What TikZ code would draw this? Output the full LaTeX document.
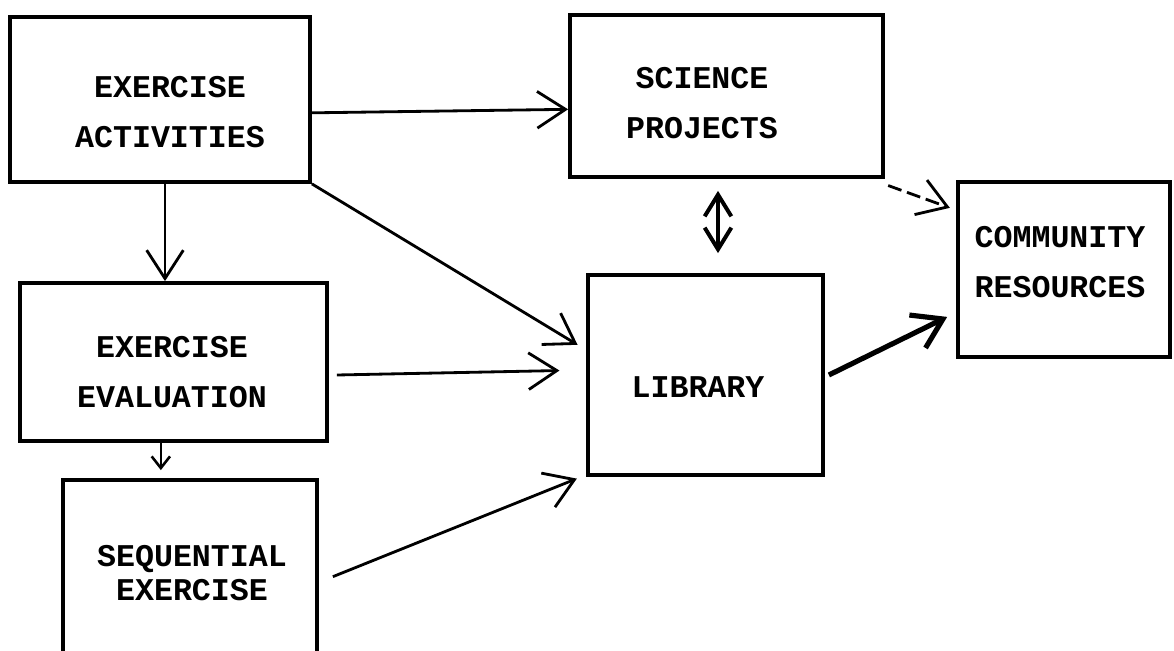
\documentclass[tikz,border=0pt]{standalone}
\usepackage{fontspec}
\setmonofont{Liberation Mono}
\usetikzlibrary{arrows.meta,positioning}
\tikzset{
  flowbox/.style={draw,line width=3.2pt,inner sep=0pt},
  flowtext/.style={align=center,inner sep=0pt,
    font=\ttfamily\bfseries\fontsize{27}{42}\selectfont},
  flowArrow/.style={-{Straight Barb[length=8.5mm,width=11mm]},line width=2.4pt},
  smallArrow/.style={-{Straight Barb[length=3.5mm,width=5.5mm]},line width=2.2pt},
  bothArrow/.style={{Straight Barb[length=6.5mm,width=8mm]}-{Straight Barb[length=6.5mm,width=8mm]},line width=3.4pt}
}

\begin{document}
\begin{tikzpicture}[x=0.03cm,y=-0.03cm]
  \useasboundingbox (0,0) rectangle (1174,651);
  \node[flowbox,minimum width=9cm,minimum height=4.95cm] (act) at (160,99.5) {};
  \node[flowbox,minimum width=9.39cm,minimum height=4.86cm] (sci) at (726.5,96) {};
  \node[flowbox,minimum width=6.36cm,minimum height=5.25cm] (com) at (1064,269.5) {};
  \node[flowbox,minimum width=7.05cm,minimum height=6cm] (lib) at (705.5,375) {};
  \node[flowbox,minimum width=9.21cm,minimum height=4.74cm] (eva) at (173.5,362) {};
  \node[flowbox,minimum width=7.62cm,minimum height=6.6cm] (seq) at (190,590) {};

  \node[flowtext] (actT) at (170,112) {EXERCISE\\ACTIVITIES};
  \node[flowtext] (sciT) at (702,103) {SCIENCE\\PROJECTS};
  \node[flowtext] (comT) at (1060,262) {COMMUNITY\\RESOURCES};
  \node[flowtext] (libT) at (698,387) {LIBRARY};
  \node[flowtext] (evaT) at (172,372) {EXERCISE\\EVALUATION};
  \node[flowtext] (seqT) at (192,573) {SEQUENTIAL\\[-13pt]EXERCISE};

  \draw[flowArrow] ([yshift=-0.4cm]act.east) -- ([yshift=-0.4cm]sci.west);
  \draw[flowArrow] ([xshift=0.15cm]act.south) -- ([xshift=0.15cm]act.south |- eva.north);
  \draw[flowArrow,shorten >=0.3cm] (act.south east) -- ([yshift=0.75cm]lib.west);
  \draw[flowArrow,shorten >=0.8cm] ([xshift=0.24cm,yshift=-0.39cm]eva.east) -- ([yshift=0.15cm]lib.west);
  \draw[smallArrow,shorten >=0.24cm] ([xshift=-0.38cm]eva.south) -- ([xshift=-0.38cm]eva.south |- seq.north);
  \draw[flowArrow,shorten >=0.3cm] ([xshift=0.42cm,yshift=0.4cm]seq.east) -- ([yshift=0.06cm]lib.south west);
  \draw[bothArrow,shorten <=0.36cm,shorten >=0.6cm] ([xshift=0.375cm]lib.north |- sci.south) -- ([xshift=0.375cm]lib.north);
  \draw[flowArrow,dash pattern=on 12pt off 5pt,shorten >=0.2cm] ([xshift=0.1cm,yshift=-0.2cm]sci.south east) -- ([yshift=-0.9cm]com.north west);
  \draw[flowArrow,line width=4.4pt,shorten >=0.3cm] ([xshift=0.12cm]lib.east) -- ([yshift=-1.29cm]com.west);
\end{tikzpicture}
\end{document}
